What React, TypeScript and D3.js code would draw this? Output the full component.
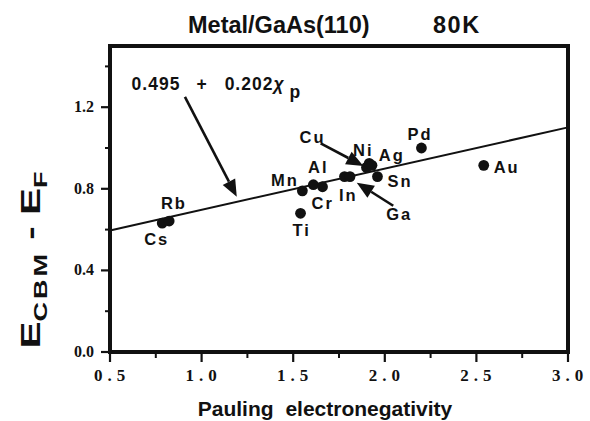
import React from "react";
import * as d3 from "d3";

const title = "Metal/GaAs(110)";
const titleTemp = "80K";
const xTitle = "Pauling electronegativity";

const metals = ["Cs", "Rb", "Ti", "Mn", "Al", "Cr", "In", "Ga", "Cu", "Ni", "Ag", "Sn", "Pd", "Au"];
const electroneg = [0.785, 0.823, 1.54, 1.55, 1.61, 1.66, 1.78, 1.81, 1.9, 1.915, 1.93, 1.96, 2.2, 2.54];
const barrier = [0.632, 0.642, 0.68, 0.79, 0.82, 0.81, 0.86, 0.86, 0.905, 0.925, 0.915, 0.86, 1.0, 0.915];

const labelX = [0.755, 0.849, 1.546, 1.455, 1.637, 1.661, 1.801, 2.079, 1.606, 1.883, 2.038, 2.083, 2.192, 2.665];
const labelY = [0.525, 0.701, 0.569, 0.814, 0.877, 0.701, 0.74, 0.647, 1.025, 0.961, 0.936, 0.809, 1.039, 0.877];

const fitIntercept = 0.495;
const fitSlope = 0.202;

const xTicks = [0.5, 1.0, 1.5, 2.0, 2.5, 3.0];
const xMinor = [0.75, 1.25, 1.75, 2.25, 2.75];
const yTicks = [0.0, 0.4, 0.8, 1.2];
const yMinor = [0.2, 0.6, 1.0, 1.4];

// arrows: [x, y] in data units
const arrowFrom = [[0.909, 1.251], [1.65, 1.023], [2.046, 0.717]];
const arrowTo = [[1.192, 0.761], [1.883, 0.912], [1.847, 0.83]];
const eqPos = [0.618, 1.284];

export default function App() {
  const W = 590, H = 421;
  const x = d3.scaleLinear().domain([0.5, 3.0]).range([110, 568]);
  const y = d3.scaleLinear().domain([0, 1.5]).range([352, 46]);
  const sans = "'Liberation Sans', Arial, Helvetica, sans-serif";
  const serif = "'Liberation Serif', 'Times New Roman', serif";

  const line = d3.line<number>().x((d) => x(d)).y((d) => y(fitIntercept + fitSlope * d));

  const arrows = arrowFrom.map((f, i) => {
    const t = arrowTo[i];
    const x1 = x(f[0]), y1 = y(f[1]), x2 = x(t[0]), y2 = y(t[1]);
    const ang = Math.atan2(y2 - y1, x2 - x1);
    const L = 17, hw = 7;
    const bx = x2 - L * Math.cos(ang), by = y2 - L * Math.sin(ang);
    const px = -Math.sin(ang), py = Math.cos(ang);
    const head = `M${x2},${y2} L${bx + hw * px},${by + hw * py} L${bx - hw * px},${by - hw * py} Z`;
    return { x1, y1, bx, by, head };
  });

  return (
    <svg width={W} height={H} style={{ display: "block", position: "absolute", left: 0, top: 0, background: "#fff" }}>
      <rect width={W} height={H} fill="#fff" />
      {/* title */}
      <text x={188} y={33} fontFamily={sans} fontWeight="bold" fontSize={23.5} fill="#111">{title}</text>
      <text x={433} y={33} fontFamily={sans} fontWeight="bold" fontSize={23.5} letterSpacing={1.5} fill="#111">{titleTemp}</text>

      {/* fit line */}
      <path d={line([0.5, 3.0]) || ""} fill="none" stroke="#111" strokeWidth={2} />

      {/* points */}
      {electroneg.map((e, i) => (
        <circle key={metals[i]} cx={x(e)} cy={y(barrier[i])} r={5.4} fill="#111" />
      ))}

      {/* labels */}
      {metals.map((m, i) => (
        <text key={"l" + m} x={x(labelX[i])} y={y(labelY[i])} textAnchor="middle" fontFamily={sans}
          fontWeight="bold" fontSize={16.5} letterSpacing={2} fill="#111">{m}</text>
      ))}

      {/* arrows */}
      {arrows.map((a, i) => (
        <g key={"a" + i}>
          <line x1={a.x1} y1={a.y1} x2={a.bx} y2={a.by} stroke="#111" strokeWidth={2.6} />
          <path d={a.head} fill="#111" />
        </g>
      ))}

      {/* equation */}
      <text x={x(eqPos[0])} y={y(eqPos[1])} fontFamily={sans} fontWeight="bold" fontSize={17.5} fill="#111" letterSpacing={1}>
        0.495<tspan dx={16}>+</tspan><tspan dx={17}>0.202</tspan><tspan fontStyle="italic">χ</tspan>
        <tspan dx={5} dy={8}>p</tspan>
      </text>

      {/* frame */}
      <rect x={x(0.5)} y={y(1.5)} width={x(3.0) - x(0.5)} height={y(0) - y(1.5)} fill="none" stroke="#111" strokeWidth={4} />

      {/* x ticks */}
      {xTicks.map((t) => (
        <g key={"xt" + t}>
          <line x1={x(t)} x2={x(t)} y1={y(0)} y2={y(0) + 10} stroke="#111" strokeWidth={2.2} />
          <text x={x(t) + 2} y={381} textAnchor="middle" fontFamily={serif} fontWeight="bold" fontSize={17} letterSpacing={5} fill="#111">
            {t.toFixed(1)}
          </text>
        </g>
      ))}
      {xMinor.map((t) => (
        <line key={"xm" + t} x1={x(t)} x2={x(t)} y1={y(0)} y2={y(0) + 6} stroke="#111" strokeWidth={2} />
      ))}

      {/* y ticks */}
      {yTicks.map((t) => (
        <g key={"yt" + t}>
          <line x1={x(0.5) - 9} x2={x(0.5)} y1={y(t)} y2={y(t)} stroke="#111" strokeWidth={2.2} />
          <text x={94} y={y(t) + 5} textAnchor="end" fontFamily={serif} fontWeight="bold" fontSize={16} fill="#111">
            {t.toFixed(1)}
          </text>
        </g>
      ))}
      {yMinor.map((t) => (
        <line key={"ym" + t} x1={x(0.5) - 5} x2={x(0.5)} y1={y(t)} y2={y(t)} stroke="#111" strokeWidth={2} />
      ))}

      {/* axis titles */}
      <text x={(x(0.5) + x(3.0)) / 2 - 14} y={416} textAnchor="middle" fontFamily={sans} fontWeight="bold" fontSize={21} wordSpacing={6} fill="#111">
        {xTitle}
      </text>
      <text transform={`translate(40, 260) rotate(-90) scale(1.5, 1)`} textAnchor="middle" fontFamily={sans} fontWeight="bold" fontSize={27} fill="#111">
        E<tspan fontSize={18} dy={7} letterSpacing={2}>CBM</tspan><tspan dy={-7}> - </tspan>E<tspan fontSize={18} dy={7}>F</tspan>
      </text>
    </svg>
  );
}
